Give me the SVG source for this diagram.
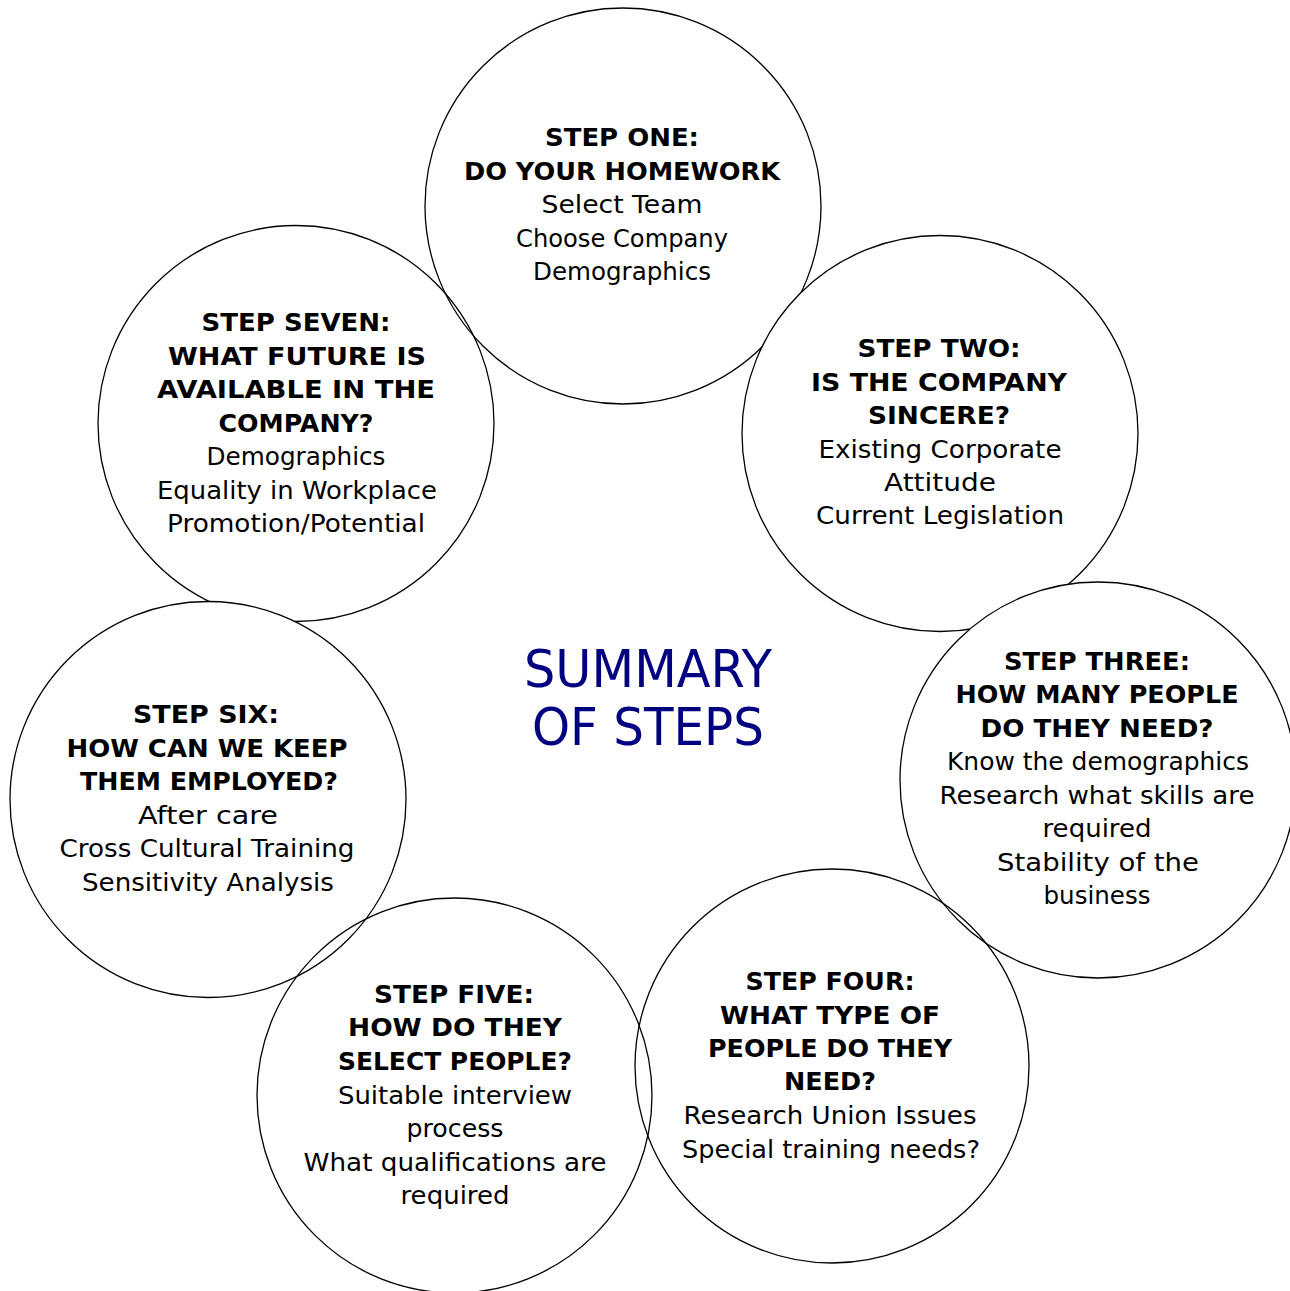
<svg xmlns="http://www.w3.org/2000/svg" width="1290" height="1291" viewBox="0 0 1290 1291">
<style>
.c{stroke:#000;stroke-width:1.3}
.o{fill:none}
.w{fill:#fff}
text{font-family:"Comic Sans MS","DejaVu Sans",sans-serif;font-size:24px;fill:#000;text-anchor:middle}
.h{font-weight:bold}
.t{fill:#000080;font-size:52px}
</style>
<rect width="1290" height="1291" fill="#fff"/>
<g id="step1">
<circle class="c o" cx="623" cy="206" r="198"/>
<text class="h" x="622" y="146" textLength="154" lengthAdjust="spacingAndGlyphs">STEP ONE:</text>
<text class="h" x="622" y="180" textLength="316" lengthAdjust="spacingAndGlyphs">DO YOUR HOMEWORK</text>
<text x="622" y="213" textLength="161" lengthAdjust="spacingAndGlyphs">Select Team</text>
<text x="622" y="247" textLength="212" lengthAdjust="spacingAndGlyphs">Choose Company</text>
<text x="622" y="280" textLength="178" lengthAdjust="spacingAndGlyphs">Demographics</text>
</g>
<g id="step7">
<circle class="c o" cx="296" cy="423.5" r="198"/>
<text class="h" x="296" y="331" textLength="189" lengthAdjust="spacingAndGlyphs">STEP SEVEN:</text>
<text class="h" x="297" y="364.5" textLength="258" lengthAdjust="spacingAndGlyphs">WHAT FUTURE IS</text>
<text class="h" x="296" y="398" textLength="278" lengthAdjust="spacingAndGlyphs">AVAILABLE IN THE</text>
<text class="h" x="296" y="431.5" textLength="155" lengthAdjust="spacingAndGlyphs">COMPANY?</text>
<text x="296" y="465" textLength="179" lengthAdjust="spacingAndGlyphs">Demographics</text>
<text x="297" y="498.5" textLength="280" lengthAdjust="spacingAndGlyphs">Equality in Workplace</text>
<text x="296" y="532" textLength="258" lengthAdjust="spacingAndGlyphs">Promotion/Potential</text>
</g>
<g id="step2">
<circle class="c w" cx="940" cy="433.5" r="198"/>
<text class="h" x="939" y="357" textLength="163" lengthAdjust="spacingAndGlyphs">STEP TWO:</text>
<text class="h" x="939" y="391" textLength="256" lengthAdjust="spacingAndGlyphs">IS THE COMPANY</text>
<text class="h" x="939" y="424" textLength="142" lengthAdjust="spacingAndGlyphs">SINCERE?</text>
<text x="940" y="458" textLength="243" lengthAdjust="spacingAndGlyphs">Existing Corporate</text>
<text x="940" y="491" textLength="112" lengthAdjust="spacingAndGlyphs">Attitude</text>
<text x="940" y="524" textLength="248" lengthAdjust="spacingAndGlyphs">Current Legislation</text>
</g>
<g id="step3">
<circle class="c w" cx="1098" cy="780" r="198"/>
<text class="h" x="1097" y="670" textLength="186" lengthAdjust="spacingAndGlyphs">STEP THREE:</text>
<text class="h" x="1097" y="703" textLength="283" lengthAdjust="spacingAndGlyphs">HOW MANY PEOPLE</text>
<text class="h" x="1097" y="737" textLength="233" lengthAdjust="spacingAndGlyphs">DO THEY NEED?</text>
<text x="1098" y="770" textLength="302" lengthAdjust="spacingAndGlyphs">Know the demographics</text>
<text x="1097" y="804" textLength="315" lengthAdjust="spacingAndGlyphs">Research what skills are</text>
<text x="1097" y="837" textLength="109" lengthAdjust="spacingAndGlyphs">required</text>
<text x="1098" y="871" textLength="202" lengthAdjust="spacingAndGlyphs">Stability of the</text>
<text x="1097" y="904" textLength="107" lengthAdjust="spacingAndGlyphs">business</text>
</g>
<g id="step6">
<circle class="c w" cx="208" cy="799.5" r="198"/>
<text class="h" x="206" y="723" textLength="146" lengthAdjust="spacingAndGlyphs">STEP SIX:</text>
<text class="h" x="207" y="757" textLength="281" lengthAdjust="spacingAndGlyphs">HOW CAN WE KEEP</text>
<text class="h" x="209" y="790" textLength="258" lengthAdjust="spacingAndGlyphs">THEM EMPLOYED?</text>
<text x="208" y="824" textLength="140" lengthAdjust="spacingAndGlyphs">After care</text>
<text x="207" y="857" textLength="295" lengthAdjust="spacingAndGlyphs">Cross Cultural Training</text>
<text x="208" y="891" textLength="252" lengthAdjust="spacingAndGlyphs">Sensitivity Analysis</text>
</g>
<g id="step4">
<circle class="c o" cx="832" cy="1066" r="197"/>
<text class="h" x="830" y="990" textLength="169" lengthAdjust="spacingAndGlyphs">STEP FOUR:</text>
<text class="h" x="830" y="1024" textLength="220" lengthAdjust="spacingAndGlyphs">WHAT TYPE OF</text>
<text class="h" x="830" y="1057" textLength="244" lengthAdjust="spacingAndGlyphs">PEOPLE DO THEY</text>
<text class="h" x="830" y="1090" textLength="92" lengthAdjust="spacingAndGlyphs">NEED?</text>
<text x="830" y="1124" textLength="293" lengthAdjust="spacingAndGlyphs">Research Union Issues</text>
<text x="831" y="1158" textLength="298" lengthAdjust="spacingAndGlyphs">Special training needs?</text>
</g>
<g id="step5">
<circle class="c o" cx="454.5" cy="1095.5" r="197.5"/>
<text class="h" x="454" y="1003" textLength="160" lengthAdjust="spacingAndGlyphs">STEP FIVE:</text>
<text class="h" x="455" y="1036" textLength="214" lengthAdjust="spacingAndGlyphs">HOW DO THEY</text>
<text class="h" x="455" y="1070" textLength="234" lengthAdjust="spacingAndGlyphs">SELECT PEOPLE?</text>
<text x="455" y="1104" textLength="234" lengthAdjust="spacingAndGlyphs">Suitable interview</text>
<text x="455" y="1137" textLength="97" lengthAdjust="spacingAndGlyphs">process</text>
<text x="455" y="1171" textLength="303" lengthAdjust="spacingAndGlyphs">What qualifications are</text>
<text x="455" y="1204" textLength="109" lengthAdjust="spacingAndGlyphs">required</text>
</g>
<g id="title">
<text class="t" x="648" y="687" textLength="248" lengthAdjust="spacingAndGlyphs">SUMMARY</text>
<text class="t" x="648" y="745" textLength="232" lengthAdjust="spacingAndGlyphs">OF STEPS</text>
</g>
</svg>
